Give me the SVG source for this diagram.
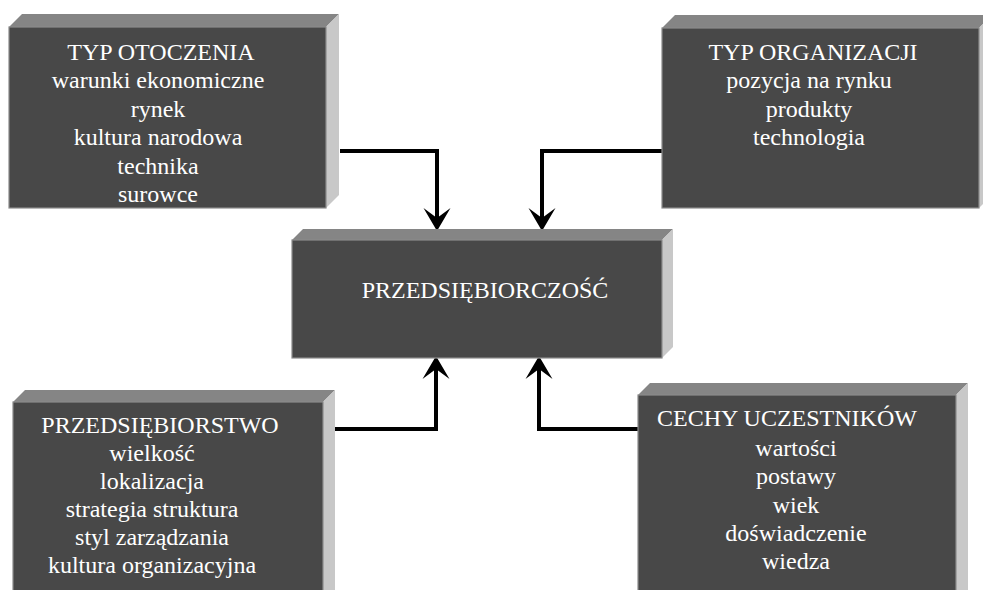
<svg xmlns="http://www.w3.org/2000/svg" width="983" height="590" viewBox="0 0 983 590">
<style>
.front{fill:#484848;stroke:#8c8c8c;stroke-width:1.2}
.top{fill:#858585}
.side{fill:#c8c8c8}
.t{font-family:"Liberation Serif","Times New Roman",serif;font-size:24px;fill:#ffffff;text-anchor:middle}
.conn{fill:none;stroke:#000;stroke-width:4;stroke-linejoin:miter;marker-end:url(#arr)}
</style>
<defs>
<marker id="arr" markerUnits="userSpaceOnUse" viewBox="0 -14 24 28" refX="10" refY="0" markerWidth="24" markerHeight="28" orient="auto" overflow="visible">
<path d="M0,-13.5 L23,0 L0,13.5 L10,0 Z" fill="#000"/>
</marker>
</defs>
<rect width="983" height="590" fill="#ffffff"/>
<g id="connectors">
<path class="conn" d="M340,151 H437 V218"/>
<path class="conn" d="M662,151 H542 V218"/>
<path class="conn" d="M335,429 H436 V369"/>
<path class="conn" d="M638,429 H539 V369"/>
</g>
<g id="typ-otoczenia">
<polygon class="top" points="9,27 22,14 339,14 326,27"/>
<polygon class="side" points="326,27 339,14 339,195 326,208"/>
<rect class="front" x="9" y="27" width="317" height="181"/>
<text class="t" x="161" y="60">TYP OTOCZENIA</text>
<text class="t" x="158" y="88.4">warunki ekonomiczne</text>
<text class="t" x="158" y="116.8">rynek</text>
<text class="t" x="158" y="145.2">kultura narodowa</text>
<text class="t" x="158" y="173.6">technika</text>
<text class="t" x="158" y="202">surowce</text>
</g>
<g id="typ-organizacji">
<polygon class="top" points="662,28 675,15 992,15 979,28"/>
<polygon class="side" points="979,28 992,15 992,195 979,208"/>
<rect class="front" x="662" y="28" width="317" height="180"/>
<text class="t" x="813" y="60">TYP ORGANIZACJI</text>
<text class="t" x="809" y="88.4">pozycja na rynku</text>
<text class="t" x="809" y="116.8">produkty</text>
<text class="t" x="809" y="145.2">technologia</text>
</g>
<g id="przedsiebiorczosc">
<polygon class="top" points="292,240 303,229 673,229 662,240"/>
<polygon class="side" points="662,240 673,229 673,347 662,358"/>
<rect class="front" x="292" y="240" width="370" height="118"/>
<text class="t" x="485" y="298">PRZEDSIĘBIORCZOŚĆ</text>
</g>
<g id="przedsiebiorstwo">
<polygon class="top" points="13,402 25,390 335,390 323,402"/>
<polygon class="side" points="323,402 335,390 335,600 323,600"/>
<rect class="front" x="13" y="402" width="310" height="200"/>
<text class="t" x="160" y="433">PRZEDSIĘBIORSTWO</text>
<text class="t" x="152" y="461">wielkość</text>
<text class="t" x="152" y="489">lokalizacja</text>
<text class="t" x="152" y="517">strategia struktura</text>
<text class="t" x="152" y="545">styl zarządzania</text>
<text class="t" x="152" y="573">kultura organizacyjna</text>
</g>
<g id="cechy-uczestnikow">
<polygon class="top" points="638,395 650,383 968,383 956,395"/>
<polygon class="side" points="956,395 968,383 968,600 956,600"/>
<rect class="front" x="638" y="395" width="318" height="210"/>
<text class="t" x="787" y="426">CECHY UCZESTNIKÓW</text>
<text class="t" x="796" y="456">wartości</text>
<text class="t" x="796" y="484">postawy</text>
<text class="t" x="796" y="512.5">wiek</text>
<text class="t" x="796" y="541">doświadczenie</text>
<text class="t" x="796" y="568.5">wiedza</text>
</g>
</svg>
